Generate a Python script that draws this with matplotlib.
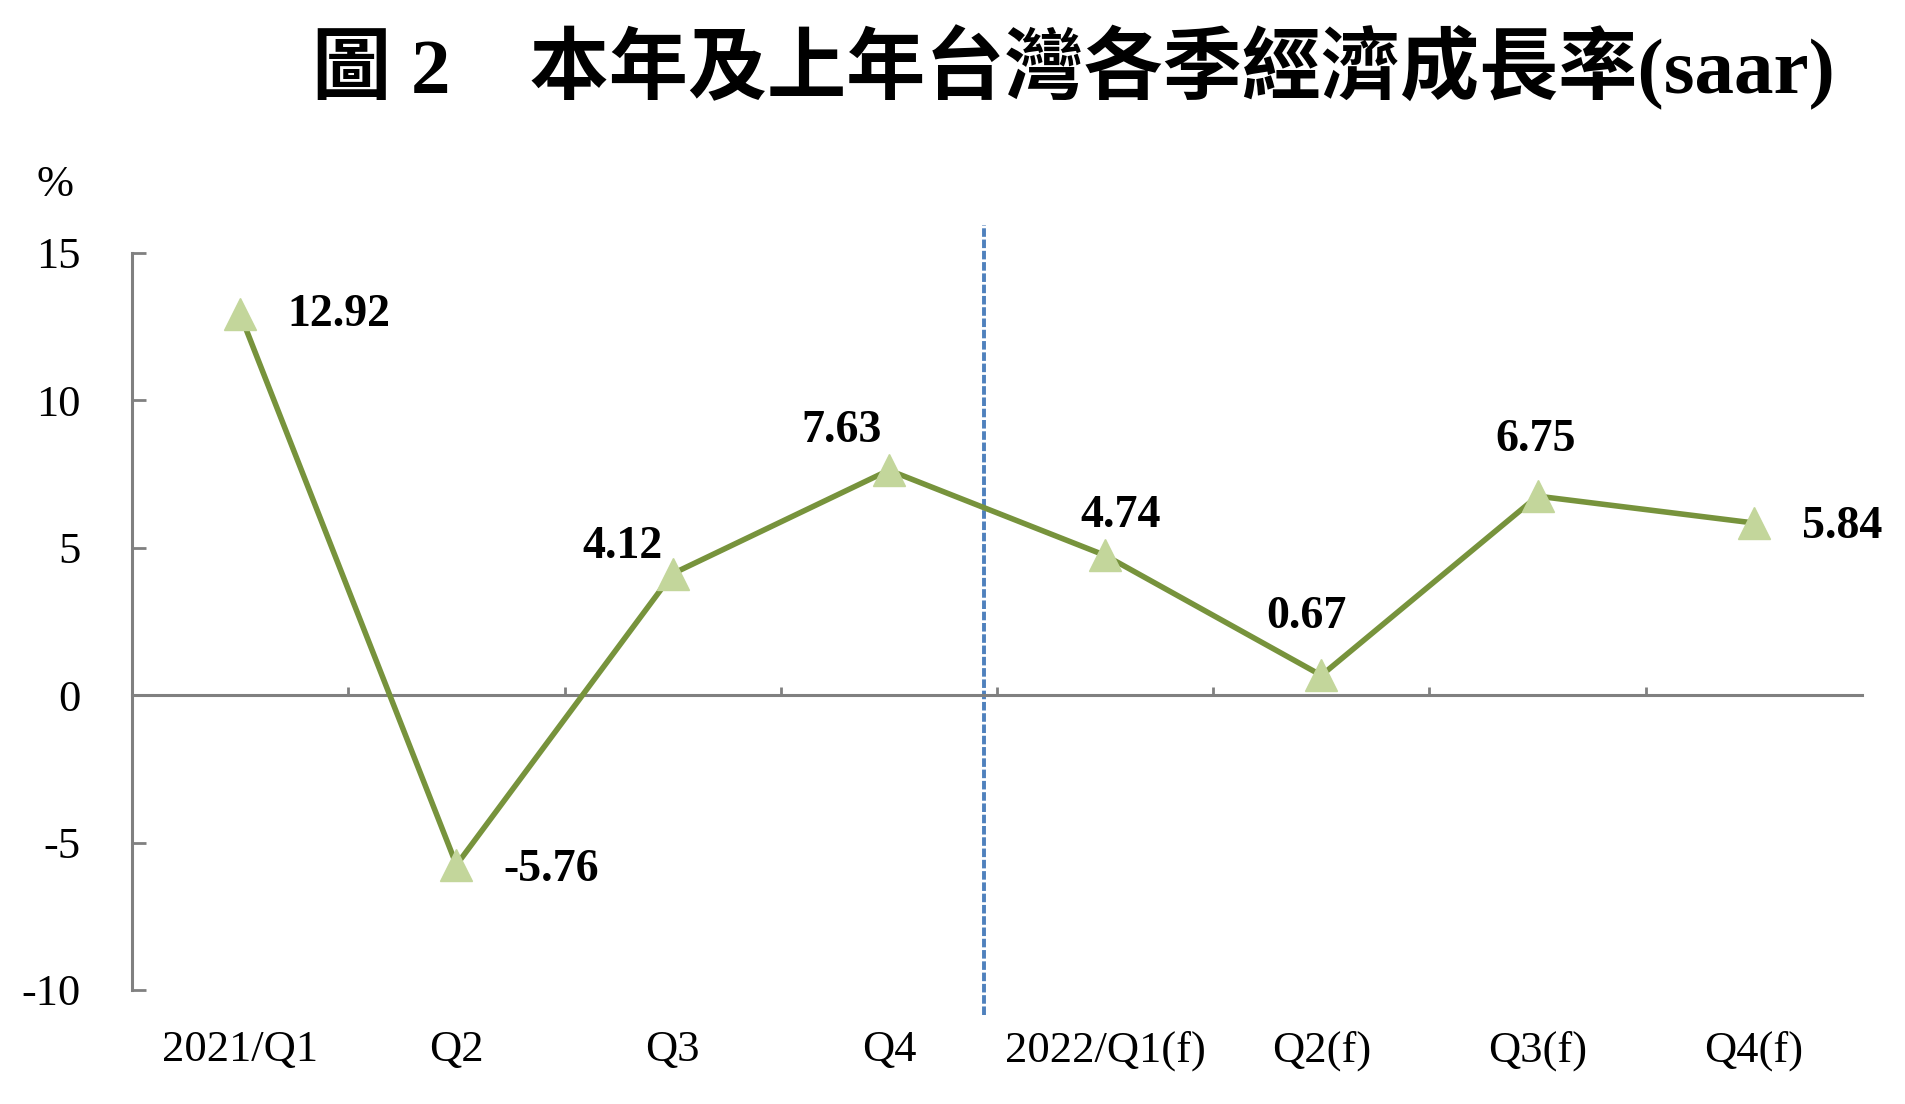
import numpy as np
import matplotlib
matplotlib.use('Agg')
import matplotlib.pyplot as plt

# data
quarters = ['2021/Q1', 'Q2', 'Q3', 'Q4', '2022/Q1(f)', 'Q2(f)', 'Q3(f)', 'Q4(f)']
growth = [12.92, -5.76, 4.12, 7.63, 4.74, 0.67, 6.75, 5.84]
yticks = [-10, -5, 0, 5, 10, 15]
# label offsets in pixels (dx, dy) relative to each point
label_offsets = [(99, -1), (95, -5), (-50, 27), (-47, 39), (15, 39), (-15, 58), (-2, 56), (88, -4)]
divider_x = 3.44   # dashed line between actual and forecast

serif = ['Liberation Serif', 'DejaVu Serif']
title_fonts = ['Liberation Serif', 'Noto Sans CJK TC', 'DejaVu Sans']

line_color = '#77933C'
marker_color = '#C3D69B'
axis_gray = '#808080'

fig = plt.figure(figsize=(19.06, 11.04), dpi=100)
ax = fig.add_axes([0.0693, 0.1033, 0.9076, 0.6676])

x = np.arange(len(quarters))
ax.plot(x, growth, color=line_color, lw=4, marker='^', ms=23,
        mfc=marker_color, mec=marker_color, zorder=3)

for xi, v, (dx, dy) in zip(x, growth, label_offsets):
    ax.annotate(f'{v:.2f}', (xi, v), xytext=(dx, dy), textcoords='offset pixels',
                ha='center', va='center', fontsize=33, fontweight='bold',
                family=serif, zorder=4)

ax.axvline(divider_x, ymin=-0.034, ymax=1.038, color='#4F81BD', lw=2.8,
           linestyle=(0, (2.2, 0.7)), clip_on=False, zorder=2)

ax.set_xlim(-0.5, len(quarters) - 0.5)
ax.set_ylim(-10, 15)
ax.set_yticks(yticks)
ax.set_yticklabels([str(t) for t in yticks], family=serif, fontsize=32)
ax.tick_params(axis='y', direction='in', length=10, width=2, color=axis_gray, pad=37)

# zero line as bottom spine, with small ticks between categories
ax.spines['bottom'].set_position(('data', 0))
ax.set_xticks(x[:-1] + 0.5)
ax.set_xticklabels([])
ax.tick_params(axis='x', direction='in', length=6, width=2, color=axis_gray)
for s in ['top', 'right']:
    ax.spines[s].set_visible(False)
for s in ['left', 'bottom']:
    ax.spines[s].set_color(axis_gray)
    ax.spines[s].set_linewidth(2.2)

# category labels along the bottom of the plot area
sec = ax.secondary_xaxis('bottom')
sec.set_xticks(x)
sec.set_xticklabels(quarters, family=serif, fontsize=32)
sec.tick_params(length=0, pad=29)
sec.spines['bottom'].set_visible(False)

fig.text(0.029, 1 - 185 / 1104, '%', family=serif, fontsize=32, ha='center', va='center')
fig.text(0.563, 0.939, '圖 2　本年及上年台灣各季經濟成長率(saar)', family=title_fonts,
         fontsize=57, fontweight='bold', ha='center', va='center')

fig.savefig('out.png', dpi=100)
